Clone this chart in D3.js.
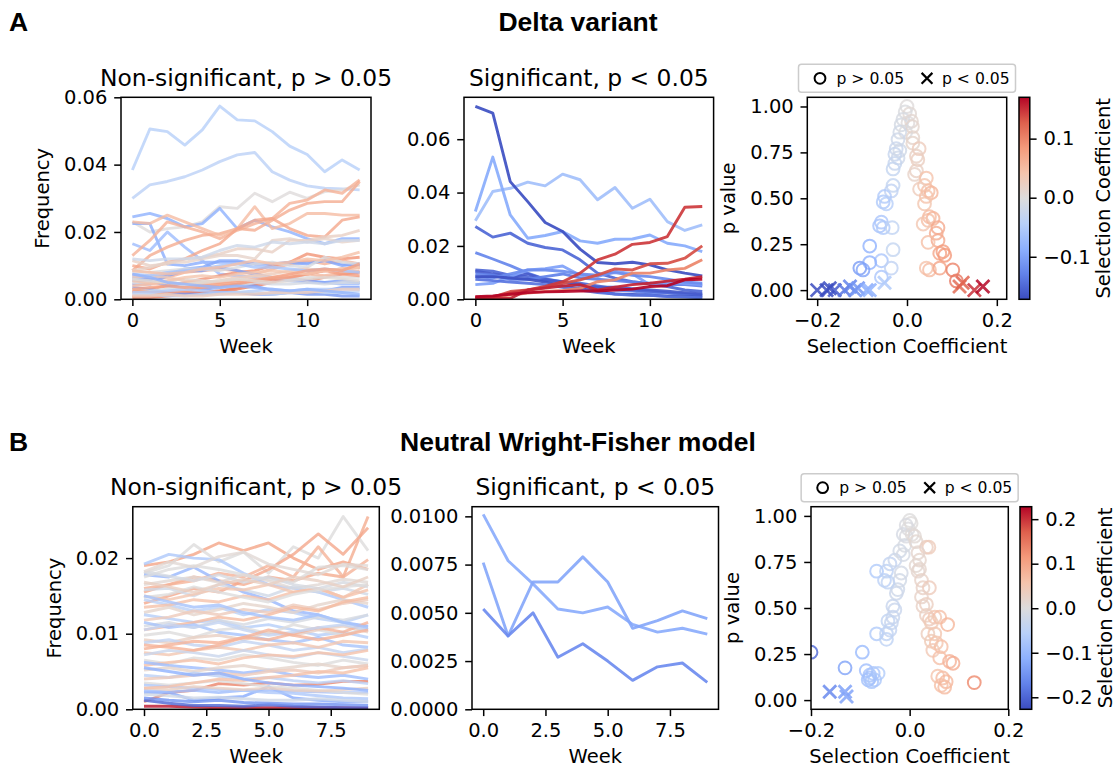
<!DOCTYPE html>
<html>
<head>
<meta charset="utf-8">
<script src="https://cdn.jsdelivr.net/npm/d3@7"></script>
<style>
  body { margin: 0; background: #fff; }
  svg { display: block; }
  text { font-family: "DejaVu Sans", sans-serif; fill: #000; }
  text.head { font-family: "Liberation Sans", Arial, sans-serif; font-weight: bold; }
</style>
</head>
<body>
<svg id="fig" width="1117" height="768"></svg>
<script>
// ---- data ----
var weeksA = [0,1,2,3,4,5,6,7,8,9,10,11,12,13];
var weeksB = [0,1,2,3,4,5,6,7,8,9];

// A: Delta variant, non-significant trajectories (selection coefficient + weekly frequency)
var aNsCoef = [-0.045,-0.04,0.0,-0.085,-0.09,-0.07,0.06,0.065,0.05,0.07,0.02,0.015,-0.02,0.09,0.06,0.105,0.1,
  -0.1,-0.095,-0.1,-0.11,0.0,-0.01,-0.005,0.03,0.05,0.08,-0.06,-0.05,-0.03,0.04,0.025,0.075,0.005,0.045,-0.08];
var aNsFreq = [
  [0.0384,0.0506,0.0498,0.0458,0.0503,0.0574,0.0533,0.053,0.0498,0.0455,0.043,0.0379,0.0414,0.0384],
  [0.030,0.034,0.035,0.0364,0.0384,0.0409,0.0429,0.0436,0.0379,0.0354,0.0337,0.033,0.0328,0.0325],
  [0.023,0.020,0.021,0.0215,0.023,0.0275,0.027,0.0315,0.029,0.0318,0.030,0.032,0.0325,0.034],
  [0.0245,0.0255,0.024,0.0215,0.0225,0.027,0.021,0.0235,0.0215,0.020,0.018,0.0165,0.018,0.018],
  [0.0225,0.0225,0.0105,0.010,0.011,0.011,0.011,0.0105,0.0105,0.0105,0.011,0.0115,0.0105,0.010],
  [0.0165,0.0145,0.020,0.0155,0.0115,0.0075,0.007,0.0065,0.006,0.0055,0.005,0.005,0.0045,0.0045],
  [0.013,0.0175,0.023,0.0215,0.020,0.018,0.0205,0.0225,0.024,0.0285,0.0295,0.0325,0.0315,0.0355],
  [0.0085,0.013,0.0155,0.0175,0.019,0.0195,0.021,0.0205,0.0235,0.0265,0.0285,0.029,0.029,0.035],
  [0.023,0.0225,0.025,0.023,0.021,0.019,0.021,0.0275,0.021,0.0225,0.0255,0.0255,0.025,0.025],
  [0.010,0.009,0.011,0.012,0.0145,0.0165,0.021,0.0235,0.024,0.021,0.019,0.0185,0.0235,0.0245],
  [0.0115,0.010,0.0105,0.012,0.0125,0.0135,0.015,0.015,0.014,0.0175,0.0175,0.0185,0.019,0.0205],
  [0.0085,0.0095,0.011,0.011,0.012,0.013,0.013,0.012,0.0175,0.018,0.017,0.018,0.017,0.0175],
  [0.012,0.0115,0.012,0.012,0.0125,0.0145,0.016,0.0155,0.017,0.0165,0.017,0.0165,0.0175,0.0175],
  [0.002,0.003,0.004,0.005,0.006,0.007,0.008,0.0085,0.010,0.011,0.0135,0.0125,0.012,0.0125],
  [0.0075,0.006,0.0065,0.008,0.0085,0.009,0.0085,0.0075,0.009,0.0105,0.0115,0.0105,0.0115,0.0105],
  [0.0005,0.0005,0.001,0.0015,0.002,0.0025,0.003,0.004,0.005,0.0065,0.0075,0.0085,0.009,0.0095],
  [0.001,0.001,0.0015,0.002,0.002,0.0025,0.0035,0.0045,0.006,0.0065,0.0055,0.0065,0.0075,0.008],
  [0.0055,0.0055,0.004,0.0035,0.003,0.0035,0.0045,0.004,0.0025,0.0025,0.002,0.0025,0.0035,0.0035],
  [0.0065,0.006,0.0075,0.009,0.0095,0.0115,0.0115,0.0105,0.0105,0.011,0.0105,0.0115,0.010,0.0105],
  [0.0045,0.0045,0.007,0.0085,0.0085,0.0095,0.0085,0.0075,0.0065,0.006,0.0055,0.005,0.0055,0.005],
  [0.0035,0.003,0.002,0.0015,0.0015,0.002,0.002,0.0015,0.0015,0.002,0.0015,0.0015,0.001,0.001],
  [0.005,0.0045,0.0055,0.006,0.0055,0.005,0.006,0.007,0.0065,0.006,0.0065,0.007,0.0065,0.0065],
  [0.003,0.0025,0.003,0.0035,0.004,0.0035,0.004,0.005,0.0045,0.0045,0.005,0.0045,0.005,0.005],
  [0.0085,0.008,0.0085,0.009,0.009,0.0085,0.0095,0.0105,0.011,0.010,0.0095,0.0125,0.011,0.0105],
  [0.0065,0.007,0.0065,0.0055,0.005,0.0055,0.0065,0.007,0.0075,0.0085,0.009,0.0085,0.009,0.0095],
  [0.004,0.0045,0.005,0.0045,0.0045,0.005,0.0055,0.006,0.0065,0.007,0.0075,0.007,0.008,0.0085],
  [0.0025,0.002,0.002,0.0025,0.0035,0.004,0.0045,0.0055,0.006,0.0065,0.0075,0.0085,0.0075,0.007],
  [0.0075,0.007,0.008,0.0085,0.009,0.010,0.0105,0.0095,0.0095,0.009,0.0085,0.009,0.0085,0.008],
  [0.002,0.002,0.0025,0.003,0.0025,0.002,0.002,0.0025,0.003,0.0025,0.003,0.003,0.003,0.003],
  [0.0015,0.0015,0.001,0.001,0.0015,0.0015,0.002,0.002,0.0015,0.002,0.0025,0.002,0.002,0.0025],
  [0.0055,0.005,0.0055,0.0065,0.007,0.0065,0.0075,0.008,0.0085,0.008,0.0075,0.0085,0.009,0.0095],
  [0.001,0.001,0.0015,0.001,0.001,0.0015,0.0015,0.0015,0.002,0.002,0.002,0.0025,0.003,0.003],
  [0.003,0.0035,0.004,0.0035,0.004,0.0045,0.005,0.0055,0.0065,0.0075,0.0085,0.009,0.0085,0.0105],
  [0.006,0.0055,0.005,0.0045,0.005,0.0055,0.006,0.0055,0.005,0.0055,0.006,0.0065,0.006,0.0055],
  [0.0085,0.008,0.0075,0.008,0.009,0.0095,0.0105,0.0115,0.0105,0.011,0.012,0.0115,0.0125,0.014],
  [0.0075,0.0065,0.005,0.0045,0.004,0.0035,0.004,0.0035,0.003,0.0025,0.003,0.0025,0.002,0.0015]
];

// A: Delta variant, significant trajectories
var aSigCoef = [-0.065,-0.09,-0.15,-0.125,-0.15,-0.16,-0.13,-0.1,-0.12,-0.17,-0.14,-0.17,0.1,0.135,0.145,0.155,0.17];
var aSigFreq = [
  [0.0294,0.0404,0.0416,0.0439,0.0425,0.0469,0.0448,0.0373,0.0419,0.0341,0.0375,0.0291,0.0258,0.0279],
  [0.0329,0.0533,0.0316,0.0229,0.0239,0.0254,0.0219,0.021,0.0225,0.0226,0.0241,0.021,0.020,0.0179],
  [0.0273,0.0233,0.0248,0.021,0.0194,0.0185,0.0148,0.0098,0.0079,0.0066,0.0058,0.0048,0.0035,0.0029],
  [0.0175,0.0151,0.0126,0.0098,0.0076,0.0066,0.005,0.0041,0.0035,0.0031,0.0023,0.0023,0.0019,0.0016],
  [0.011,0.0105,0.009,0.0085,0.007,0.0065,0.006,0.005,0.004,0.0035,0.003,0.0025,0.002,0.0015],
  [0.0105,0.0095,0.0085,0.0095,0.0075,0.0065,0.0055,0.0045,0.0045,0.004,0.0035,0.003,0.0025,0.002],
  [0.0095,0.009,0.0075,0.0075,0.0085,0.0095,0.008,0.0075,0.007,0.0065,0.006,0.0055,0.0055,0.005],
  [0.0055,0.006,0.0085,0.011,0.0115,0.0125,0.009,0.0085,0.0105,0.0095,0.0055,0.0065,0.006,0.0055],
  [0.0085,0.008,0.0095,0.011,0.011,0.0105,0.0095,0.009,0.010,0.009,0.0085,0.0075,0.0065,0.006],
  [0.0085,0.0085,0.008,0.0075,0.0065,0.005,0.004,0.003,0.002,0.0018,0.0015,0.0012,0.001,0.0008],
  [0.0075,0.007,0.0065,0.006,0.0055,0.0045,0.0035,0.0025,0.002,0.0015,0.0015,0.001,0.0008,0.0006],
  [0.0723,0.0698,0.0441,0.0366,0.0288,0.0254,0.0188,0.0138,0.0133,0.0139,0.0129,0.011,0.0098,0.0088],
  [0.0004,0.0008,0.0016,0.0023,0.0029,0.0033,0.0041,0.0066,0.0073,0.0098,0.0098,0.011,0.0116,0.0148],
  [0.0004,0.0008,0.0029,0.0035,0.0044,0.006,0.0073,0.0091,0.0114,0.011,0.0133,0.0135,0.0154,0.020],
  [0.0008,0.001,0.0023,0.0035,0.0048,0.0066,0.0098,0.0148,0.0169,0.0206,0.0213,0.0235,0.0345,0.0348],
  [0.0005,0.0004,0.0003,0.0035,0.0042,0.005,0.0055,0.0035,0.0045,0.0055,0.006,0.0068,0.0075,0.0085],
  [0.001,0.0013,0.0019,0.0025,0.0028,0.0029,0.0031,0.0031,0.0035,0.0038,0.0048,0.0051,0.0073,0.0075]
];

// A: scatter of selection coefficient vs p value
var aCircS = [0,-0.004,0.006,-0.009,0.01,-0.013,0.002,0.012,-0.016,-0.003,0.013,-0.02,0.013,-0.024,-0.016,-0.027,-0.02,
  0.027,0.021,0.024,-0.027,-0.031,0.021,0.017,0.043,0.039,-0.031,-0.035,0.047,0.028,0.054,0.043,-0.05,-0.053,-0.046,
  0.039,0.05,0.047,0.058,0.036,-0.057,-0.061,-0.053,-0.033,0.069,0.065,0.069,0.047,-0.083,-0.031,0.08,0.073,0.084,
  -0.057,-0.083,-0.105,-0.098,-0.035,0.043,0.05,0.073,0.102,-0.057,0.11];
var aCircP = [1.0,0.97,0.96,0.93,0.92,0.90,0.91,0.89,0.86,0.86,0.83,0.82,0.80,0.77,0.76,0.74,0.72,
  0.77,0.73,0.71,0.69,0.66,0.65,0.63,0.61,0.57,0.57,0.54,0.54,0.55,0.53,0.51,0.51,0.48,0.47,
  0.47,0.40,0.38,0.39,0.36,0.37,0.35,0.34,0.34,0.34,0.31,0.27,0.26,0.24,0.22,0.21,0.20,0.19,
  0.16,0.15,0.12,0.11,0.12,0.12,0.11,0.12,0.11,0.07,0.05];
var aCrossS = [-0.2,-0.179,-0.161,-0.172,-0.139,-0.127,-0.116,-0.109,-0.09,-0.083,-0.05,0.117,0.124,0.15,0.169];
var aCrossP = [0.0,0.0,0.0,0.01,0.0,0.02,0.0,0.01,0.0,0.0,0.04,0.02,0.04,0.0,0.02];

// B: neutral Wright-Fisher, non-significant trajectories
var bNsCoef = [0.09,0.1,0.0,0.095,0.08,-0.07,-0.1,0.137,0.22,-0.2,-0.12,-0.09,0.0,0.01,-0.02,0.05,-0.05,0.06,0.02,-0.06,
  0.04,-0.01,0.07,-0.08,0.0,0.03,-0.04,0.08,0.05,-0.03,0.0,0.06,-0.09,0.02,-0.05,0.04,0.0,-0.07,0.03,-0.02,
  -0.15,-0.04,0.08,-0.01,0.0,-0.08,0.06,-0.11,0.01,0.03];
var bNsFreq = [
  [0.0155,0.0165,0.0175,0.017,0.0165,0.0175,0.017,0.018,0.0175,0.0255],
  [0.019,0.0195,0.0205,0.022,0.021,0.022,0.020,0.0185,0.0195,0.0185],
  [0.018,0.019,0.0218,0.0195,0.0208,0.018,0.0215,0.020,0.0255,0.021],
  [0.014,0.015,0.016,0.0155,0.017,0.0185,0.0205,0.0232,0.0205,0.024],
  [0.016,0.0165,0.017,0.018,0.0175,0.019,0.0175,0.0215,0.0175,0.0198],
  [0.0192,0.0205,0.020,0.0198,0.018,0.0165,0.016,0.0155,0.0145,0.0135],
  [0.0178,0.0175,0.0188,0.017,0.0155,0.0145,0.013,0.0125,0.0115,0.011],
  [0.001,0.0022,0.0025,0.0034,0.0032,0.0035,0.0032,0.0033,0.0037,0.0037],
  [0.0004,0.0004,0.0003,0.0002,0.0002,0.0002,0.0002,0.0002,0.0002,0.0002],
  [0.0012,0.0008,0.0005,0.0005,0.0004,0.0006,0.0004,0.0003,0.0002,0.0002],
  [0.0022,0.0022,0.0012,0.0015,0.0017,0.003,0.0015,0.0012,0.001,0.001],
  [0.0025,0.0023,0.0025,0.0022,0.0025,0.0025,0.0024,0.0023,0.0022,0.0022],
  [0.0175,0.0185,0.019,0.0185,0.0178,0.0172,0.0168,0.0188,0.019,0.0185],
  [0.0165,0.017,0.0175,0.0168,0.0178,0.017,0.016,0.0165,0.0172,0.0168],
  [0.0158,0.016,0.015,0.0165,0.0158,0.015,0.0162,0.0155,0.016,0.0152],
  [0.015,0.0145,0.0152,0.016,0.0158,0.0165,0.0155,0.016,0.0148,0.0165],
  [0.0145,0.0138,0.013,0.0135,0.0125,0.0132,0.0128,0.012,0.0115,0.0125],
  [0.0135,0.0138,0.0145,0.0142,0.015,0.0145,0.0155,0.016,0.0148,0.0158],
  [0.0128,0.0135,0.0125,0.0132,0.014,0.0135,0.0128,0.0138,0.0145,0.014],
  [0.0125,0.012,0.0115,0.0118,0.0108,0.0112,0.0105,0.0098,0.0102,0.0095],
  [0.0118,0.0122,0.013,0.0125,0.0132,0.0128,0.0138,0.0132,0.014,0.0145],
  [0.011,0.0115,0.0108,0.0118,0.0112,0.012,0.0115,0.0122,0.0118,0.0125],
  [0.0105,0.011,0.0115,0.0122,0.0118,0.0125,0.0135,0.013,0.0142,0.0148],
  [0.0115,0.0108,0.0112,0.0102,0.0098,0.0092,0.0088,0.0095,0.0085,0.0082],
  [0.0098,0.0102,0.0095,0.0105,0.0108,0.010,0.0112,0.0105,0.0098,0.0108],
  [0.0092,0.0088,0.0095,0.0098,0.0092,0.0102,0.0098,0.0105,0.011,0.0102],
  [0.0088,0.0092,0.0085,0.0082,0.009,0.0085,0.0078,0.0082,0.0075,0.008],
  [0.008,0.0085,0.009,0.0088,0.0095,0.0092,0.010,0.0108,0.0102,0.0115],
  [0.0075,0.0072,0.0078,0.0082,0.0078,0.0085,0.0088,0.0082,0.009,0.0088],
  [0.0072,0.0078,0.0075,0.007,0.0078,0.0072,0.0068,0.0075,0.007,0.0065],
  [0.0065,0.006,0.0068,0.0065,0.0072,0.0068,0.0062,0.0058,0.0065,0.006],
  [0.0058,0.0062,0.0065,0.006,0.0068,0.0072,0.007,0.0075,0.0072,0.0078],
  [0.0062,0.0058,0.0055,0.0052,0.0048,0.0052,0.0045,0.0042,0.0045,0.004],
  [0.0052,0.0055,0.005,0.0055,0.0058,0.0052,0.0056,0.006,0.0055,0.0058],
  [0.0045,0.0042,0.0048,0.0044,0.004,0.0042,0.0038,0.0035,0.0038,0.0034],
  [0.004,0.0042,0.0045,0.0048,0.0045,0.005,0.0052,0.0048,0.0055,0.0058],
  [0.0035,0.0032,0.0035,0.0038,0.0034,0.003,0.0028,0.0025,0.0022,0.002],
  [0.0032,0.003,0.0028,0.0026,0.0025,0.0022,0.0021,0.0018,0.0015,0.0014],
  [0.0028,0.0026,0.003,0.0028,0.0026,0.0028,0.0025,0.0024,0.0026,0.0028],
  [0.002,0.0018,0.0015,0.0016,0.0014,0.0012,0.0012,0.0014,0.0012,0.001],
  [0.0015,0.0012,0.001,0.0012,0.0009,0.0008,0.0007,0.0007,0.0006,0.0005],
  [0.0105,0.0112,0.0108,0.0115,0.0105,0.0098,0.0102,0.0108,0.0112,0.0105],
  [0.0085,0.0082,0.0078,0.0085,0.0095,0.0105,0.0098,0.0092,0.0098,0.0105],
  [0.0182,0.0176,0.017,0.0178,0.0168,0.0175,0.0165,0.016,0.0168,0.0162],
  [0.0148,0.0152,0.0162,0.0155,0.0148,0.0142,0.0152,0.0158,0.0162,0.0165],
  [0.015,0.0142,0.0135,0.0138,0.0128,0.0122,0.0118,0.0125,0.0115,0.0108],
  [0.0028,0.003,0.0035,0.004,0.0038,0.0042,0.0045,0.005,0.0048,0.0055],
  [0.0055,0.005,0.0045,0.0048,0.004,0.0035,0.0032,0.003,0.0028,0.0025],
  [0.0182,0.0195,0.0188,0.0202,0.0208,0.0192,0.0185,0.0178,0.0192,0.019],
  [0.0168,0.0162,0.0155,0.0165,0.0172,0.0165,0.0175,0.017,0.0162,0.0175]
];

// B: significant trajectories
var bSigCoef = [-0.12,-0.125,-0.16];
var bSigFreq = [
  [0.0101,0.0077,0.0065,0.0052,0.0050,0.0053,0.0044,0.0040,0.0042,0.0039],
  [0.0076,0.0038,0.0066,0.0066,0.0079,0.0066,0.0042,0.0046,0.0051,0.0047],
  [0.0052,0.0038,0.0050,0.0027,0.0034,0.0025,0.0015,0.0022,0.0024,0.0014]
];

// B: scatter
var bCircS = [-0.2,-0.096,-0.131,-0.088,-0.081,-0.074,-0.064,-0.081,-0.071,-0.084,-0.077,
  -0.067,-0.047,-0.047,-0.04,-0.037,-0.044,-0.034,-0.03,-0.034,-0.027,-0.024,-0.02,-0.017,-0.067,-0.047,-0.051,-0.044,
  -0.04,-0.03,-0.02,-0.013,-0.01,-0.007,-0.013,-0.003,0,0.003,-0.007,0.005,0.01,0.013,0.034,0.039,0.017,0.02,0.013,
  0.02,0.017,0.024,0.027,0.04,0.024,0.034,0.027,0.034,0.051,0.04,0.061,0.044,0.077,0.037,0.051,0.044,0.054,0.064,
  0.047,0.061,0.081,0.088,0.057,0.067,0.074,0.071,0.064,0.131];
var bCircP = [0.26,0.26,0.175,0.16,0.135,0.145,0.145,0.12,0.11,0.11,0.10,
  0.36,0.36,0.33,0.38,0.42,0.43,0.45,0.49,0.51,0.58,0.60,0.65,0.69,0.70,0.70,0.65,0.64,
  0.74,0.76,0.81,0.79,0.84,0.89,0.90,0.93,0.975,0.96,0.95,0.90,0.89,0.86,0.83,0.83,0.80,0.76,0.73,
  0.71,0.70,0.65,0.61,0.61,0.56,0.52,0.51,0.46,0.45,0.44,0.45,0.42,0.41,0.36,0.36,0.32,0.31,0.29,
  0.27,0.23,0.21,0.20,0.13,0.12,0.10,0.07,0.08,0.095];
var bCrossS = [-0.162,-0.131,-0.128];
var bCrossP = [0.045,0.045,0.02];

var cwStops = ["#3b4cc0","#6282ea","#8db0fe","#b8d0f9","#dddcdc","#f5c4ac","#f49a7b","#de604d","#b40426"];

// ---- drawing ----
var svg = d3.select("#fig");
var FS = 19.5, TFS = 23.4, LW = 2.9;
var cw = d3.piecewise(d3.interpolateRgb, cwStops);
var clipN = 0;

function cmap(lo, hi) {
  return function(v) { return cw(Math.max(0, Math.min(1, (v - lo) / (hi - lo)))); };
}

function styleAxis(sel) {
  sel.select(".domain").remove();
  sel.attr("font-size", null).attr("font-family", null);
  sel.selectAll("line").attr("stroke", "#000").attr("stroke-width", 1.5);
  sel.selectAll("text").attr("font-size", FS).attr("fill", "#000");
}

function axes(o) {
  var g = svg.append("g").attr("transform", "translate(" + o.left + "," + o.top + ")");
  var x = d3.scaleLinear().domain(o.xDom).range([0, o.w]);
  var y = d3.scaleLinear().domain(o.yDom).range([o.h, 0]);
  var id = "clip" + (clipN++);
  g.append("clipPath").attr("id", id).append("rect").attr("width", o.w).attr("height", o.h);
  var plot = g.append("g").attr("clip-path", "url(#" + id + ")");

  g.append("g").attr("transform", "translate(0," + o.h + ")")
    .call(d3.axisBottom(x).tickValues(o.xTicks).tickFormat(d3.format(o.xFmt)).tickSize(6.8).tickPadding(6.8).tickSizeOuter(0))
    .call(styleAxis);
  g.append("g")
    .call(d3.axisLeft(y).tickValues(o.yTicks).tickFormat(d3.format(o.yFmt)).tickSize(6.8).tickPadding(6.8).tickSizeOuter(0))
    .call(styleAxis);

  g.append("text").attr("x", o.w / 2).attr("y", -11.7).attr("text-anchor", "middle")
    .attr("font-size", TFS).text(o.title || "");
  g.append("text").attr("x", o.w / 2).attr("y", o.h + 54).attr("text-anchor", "middle")
    .attr("font-size", FS).text(o.xLabel);
  if (o.yLabel) {
    g.append("text").attr("transform", "translate(-72," + (o.h / 2) + ") rotate(-90)")
      .attr("text-anchor", "middle").attr("font-size", FS).text(o.yLabel);
  }
  return {g: g, plot: plot, x: x, y: y, o: o};
}

function frame(a) {
  a.g.append("rect").attr("width", a.o.w).attr("height", a.o.h)
    .attr("fill", "none").attr("stroke", "#000").attr("stroke-width", 1.5);
}

function linePanel(o) {
  var a = axes(o);
  var color = cmap(o.cLo, o.cHi);
  var line = d3.line().x(function(d, i) { return a.x(o.weeks[i]); }).y(function(d) { return a.y(d); });
  a.plot.selectAll("path.traj").data(o.freq).join("path")
    .attr("class", "traj")
    .attr("d", line)
    .attr("fill", "none")
    .attr("stroke", function(d, i) { return color(o.coef[i]); })
    .attr("stroke-width", LW)
    .attr("stroke-opacity", o.alpha)
    .attr("stroke-linejoin", "round");
  frame(a);
}

function crossPath(r) {
  return "M" + (-r) + "," + (-r) + "L" + r + "," + r + "M" + (-r) + "," + r + "L" + r + "," + (-r);
}

function scatterPanel(o) {
  var a = axes(o);
  var color = cmap(o.cLo, o.cHi);
  a.plot.selectAll("circle.pt").data(o.circS).join("circle")
    .attr("class", "pt")
    .attr("cx", function(d) { return a.x(d); })
    .attr("cy", function(d, i) { return a.y(o.circP[i]); })
    .attr("r", 6.4)
    .attr("fill", "none")
    .attr("stroke", function(d) { return color(d); })
    .attr("stroke-width", 2)
    .attr("stroke-opacity", 0.8);
  a.plot.selectAll("path.cross").data(o.crossS).join("path")
    .attr("class", "cross")
    .attr("transform", function(d, i) { return "translate(" + a.x(d) + "," + a.y(o.crossP[i]) + ")"; })
    .attr("d", crossPath(6.5))
    .attr("fill", "none")
    .attr("stroke", function(d) { return color(d); })
    .attr("stroke-width", 2.8)
    .attr("stroke-opacity", 0.85);
  frame(a);

  // legend above the axes
  var cx = o.w / 2;
  var lg = a.g.append("g").attr("transform", "translate(" + cx + "," + (-33) + ")");
  lg.append("rect").attr("x", -108.5).attr("y", 0).attr("width", 217).attr("height", 28).attr("rx", 3)
    .attr("fill", "#fff").attr("fill-opacity", 0.8).attr("stroke", "#cccccc").attr("stroke-width", 1.5);
  lg.append("circle").attr("cx", -87).attr("cy", 14).attr("r", 5.4)
    .attr("fill", "none").attr("stroke", "#000").attr("stroke-width", 2);
  lg.append("text").attr("x", -70.5).attr("y", 19.5).attr("font-size", 15.6).text("p > 0.05");
  lg.append("path").attr("transform", "translate(20,14)").attr("d", crossPath(5.4))
    .attr("stroke", "#000").attr("stroke-width", 2.2);
  lg.append("text").attr("x", 35).attr("y", 19.5).attr("font-size", 15.6).text("p < 0.05");

  // colorbar
  var gid = "grad" + (clipN++);
  var grad = svg.append("defs").append("linearGradient").attr("id", gid)
    .attr("x1", "0%").attr("x2", "0%").attr("y1", "100%").attr("y2", "0%");
  cwStops.forEach(function(c, i) {
    grad.append("stop").attr("offset", (i / (cwStops.length - 1) * 100) + "%").attr("stop-color", c);
  });
  var cb = a.g.append("g").attr("transform", "translate(" + (o.w + o.cbGap) + ",0)");
  cb.append("rect").attr("width", o.cbW).attr("height", o.h).attr("fill", "url(#" + gid + ")");
  var cy = d3.scaleLinear().domain([o.cLo, o.cHi]).range([o.h, 0]);
  cb.append("g").attr("transform", "translate(" + o.cbW + ",0)")
    .call(d3.axisRight(cy).tickValues(o.cTicks).tickFormat(d3.format(".1f")).tickSize(6.8).tickPadding(6.8).tickSizeOuter(0))
    .call(styleAxis);
  cb.append("rect").attr("width", o.cbW).attr("height", o.h)
    .attr("fill", "none").attr("stroke", "#000").attr("stroke-width", 1.5);
  cb.append("text").attr("transform", "translate(" + (o.cbW + 80) + "," + (o.h / 2) + ") rotate(-90)")
    .attr("text-anchor", "middle").attr("font-size", FS).text("Selection Coefficient");
}

// headers
function header(y, letter, title) {
  svg.append("text").attr("class", "head").attr("x", 9).attr("y", y)
    .attr("font-size", 26.5).text(letter);
  svg.append("text").attr("class", "head").attr("x", 578).attr("y", y).attr("text-anchor", "middle")
    .attr("font-size", 26.5).text(title);
}
header(31, "A", "Delta variant");
header(451, "B", "Neutral Wright-Fisher model");

// row A
var aLo = -0.172, aHi = 0.170;
linePanel({left: 121, top: 97.3, w: 250, h: 202, xDom: [-0.65, 13.65], yDom: [0, 0.06],
  xTicks: [0, 5, 10], yTicks: [0, 0.02, 0.04, 0.06], xFmt: "d", yFmt: ".2f",
  title: "Non-significant, p > 0.05", xLabel: "Week", yLabel: "Frequency",
  weeks: weeksA, coef: aNsCoef, freq: aNsFreq, cLo: aLo, cHi: aHi, alpha: 0.8});
linePanel({left: 464, top: 97.3, w: 249.6, h: 202, xDom: [-0.65, 13.65], yDom: [0, 0.0757],
  xTicks: [0, 5, 10], yTicks: [0, 0.02, 0.04, 0.06], xFmt: "d", yFmt: ".2f",
  title: "Significant, p < 0.05", xLabel: "Week",
  weeks: weeksA, coef: aSigCoef, freq: aSigFreq, cLo: aLo, cHi: aHi, alpha: 0.92});
scatterPanel({left: 807.3, top: 97.3, w: 199.4, h: 202, xDom: [-0.222, 0.222], yDom: [-0.05, 1.05],
  xTicks: [-0.2, 0, 0.2], yTicks: [0, 0.25, 0.5, 0.75, 1], xFmt: ".1f", yFmt: ".2f",
  xLabel: "Selection Coefficient", yLabel: "p value",
  circS: aCircS, circP: aCircP, crossS: aCrossS, crossP: aCrossP,
  cLo: aLo, cHi: aHi, cTicks: [-0.1, 0, 0.1], cbGap: 12.3, cbW: 10.8});

// row B
var bLo = -0.227, bHi = 0.228;
linePanel({left: 132.8, top: 506.7, w: 246.5, h: 202.6, xDom: [-0.45, 9.45], yDom: [0, 0.0268],
  xTicks: [0, 2.5, 5, 7.5], yTicks: [0, 0.01, 0.02], xFmt: ".1f", yFmt: ".2f",
  title: "Non-significant, p > 0.05", xLabel: "Week", yLabel: "Frequency",
  weeks: weeksB, coef: bNsCoef, freq: bNsFreq, cLo: bLo, cHi: bHi, alpha: 0.8});
linePanel({left: 472, top: 506.7, w: 246.5, h: 202.6, xDom: [-0.45, 9.45], yDom: [0, 0.0105],
  xTicks: [0, 2.5, 5, 7.5], yTicks: [0, 0.0025, 0.005, 0.0075, 0.01], xFmt: ".1f", yFmt: ".4f",
  title: "Significant, p < 0.05", xLabel: "Week",
  weeks: weeksB, coef: bSigCoef, freq: bSigFreq, cLo: bLo, cHi: bHi, alpha: 0.9});
scatterPanel({left: 811, top: 506.7, w: 197.3, h: 202.6, xDom: [-0.2, 0.2], yDom: [-0.05, 1.05],
  xTicks: [-0.2, 0, 0.2], yTicks: [0, 0.25, 0.5, 0.75, 1], xFmt: ".1f", yFmt: ".2f",
  xLabel: "Selection Coefficient", yLabel: "p value",
  circS: bCircS, circP: bCircP, crossS: bCrossS, crossP: bCrossP,
  cLo: bLo, cHi: bHi, cTicks: [-0.2, -0.1, 0, 0.1, 0.2], cbGap: 11.7, cbW: 11.7});
</script>
</body>
</html>
